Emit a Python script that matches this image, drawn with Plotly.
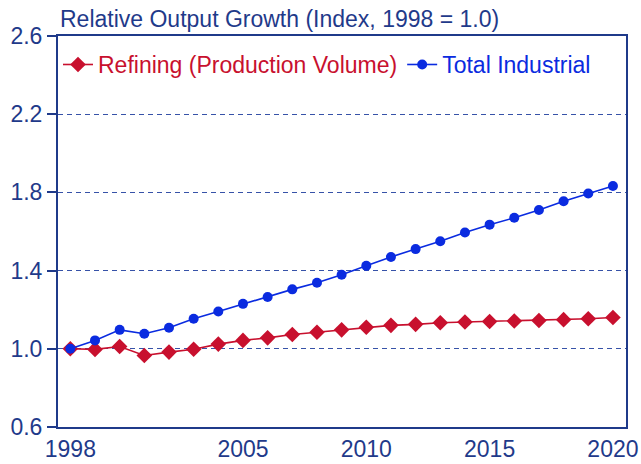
import plotly.graph_objects as go

years = list(range(1998, 2021))
refining = [1.00, 0.997, 1.012, 0.966, 0.983, 0.998, 1.024, 1.043, 1.056, 1.073, 1.085, 1.097,
            1.110, 1.120, 1.125, 1.133, 1.137, 1.140, 1.142, 1.145, 1.149, 1.154, 1.160]
industrial = [1.00, 1.043, 1.097, 1.077, 1.108, 1.154, 1.191, 1.230, 1.265, 1.304, 1.338, 1.379,
              1.425, 1.470, 1.510, 1.550, 1.595, 1.635, 1.670, 1.710, 1.755, 1.794, 1.833]
x_ticks = [1998, 2005, 2010, 2015, 2020]
y_ticks = [0.6, 1.0, 1.4, 1.8, 2.2, 2.6]

RED = "#C8102E"
BLUE = "#0A2BE0"
NAVY = "#1F3A8A"
FONT = "Liberation Sans, Arial, sans-serif"
FS = 23

fig = go.Figure()
fig.add_trace(go.Scatter(
    x=years, y=refining, mode="lines+markers",
    name=f"<span style='color:{RED}'>Refining (Production Volume)</span>",
    line=dict(color=RED, width=1.6),
    marker=dict(symbol="diamond", size=12, color=RED),
))
fig.add_trace(go.Scatter(
    x=years, y=industrial, mode="lines+markers",
    name=f"<span style='color:{BLUE}'>Total Industrial</span>",
    line=dict(color=BLUE, width=1.6),
    marker=dict(symbol="circle", size=10, color=BLUE),
))

fig.update_layout(
    width=641, height=464,
    margin=dict(l=58, r=15, t=36, b=37),
    paper_bgcolor="white", plot_bgcolor="white",
    font=dict(family=FONT, size=FS, color=NAVY),
    showlegend=True,
    legend=dict(orientation="h", x=0.0, y=0.982, xanchor="left", yanchor="top",
                bgcolor="rgba(0,0,0,0)", font=dict(size=FS), itemwidth=30),
    annotations=[dict(text="Relative Output Growth (Index, 1998 = 1.0)", xref="paper", yref="paper",
                      x=0.0, y=1.0, xanchor="left", yanchor="middle", yshift=17, showarrow=False,
                      font=dict(size=FS, color=NAVY))],
)
fig.update_xaxes(range=[1997.5, 2020.53], tickvals=x_ticks, ticktext=[str(v) for v in x_ticks],
                 showgrid=False, zeroline=False, showline=True, linecolor=NAVY, linewidth=2,
                 mirror=True, ticks="", tickfont=dict(size=FS, color=NAVY), automargin=False)
fig.update_yaxes(range=[0.6, 2.6], tickvals=y_ticks, ticktext=[f"{v:.1f}" for v in y_ticks],
                 showgrid=True, gridcolor="#3652A8", gridwidth=1, griddash="5px,4px",
                 zeroline=False, showline=True, linecolor=NAVY, linewidth=2, mirror=True,
                 ticks="outside", ticklen=9, tickwidth=2, tickcolor=NAVY,
                 tickfont=dict(size=FS, color=NAVY), automargin=False)

fig.write_html("out.html", config={"displayModeBar": False},
               post_script="document.body.style.margin='0px';")
